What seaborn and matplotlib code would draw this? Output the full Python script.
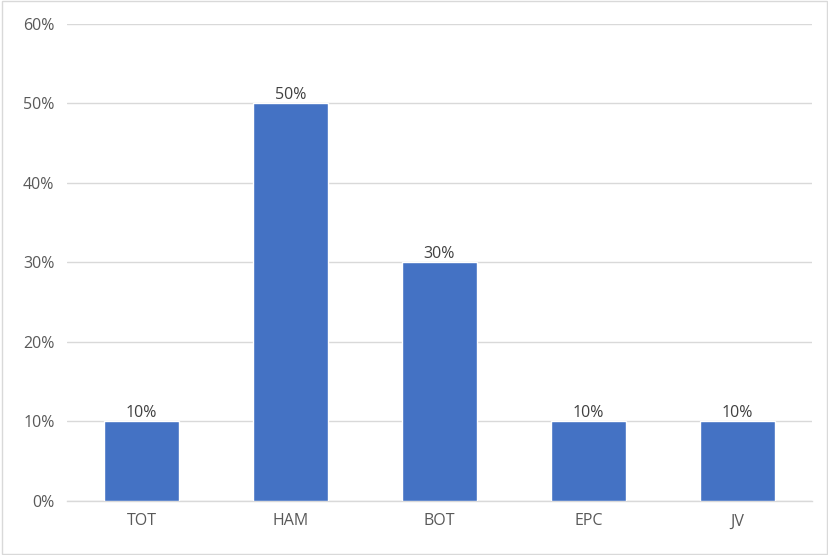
import matplotlib
matplotlib.use("Agg")
import matplotlib.pyplot as plt
from matplotlib.patches import Rectangle
from matplotlib.ticker import PercentFormatter
import seaborn as sns
import pandas as pd

categories = ["TOT", "HAM", "BOT", "EPC", "JV"]
shares = [0.10, 0.50, 0.30, 0.10, 0.10]
y_ticks = [0.0, 0.1, 0.2, 0.3, 0.4, 0.5, 0.6]

df = pd.DataFrame({"category": categories, "share": shares})

sns.set_theme(style="white")
plt.rcParams["font.family"] = ["Open Sans", "DejaVu Sans"]

fig = plt.figure(figsize=(8.29, 5.55), dpi=100)
ax = fig.add_axes([0.0808, 0.0973, 0.8987, 0.8595])

sns.barplot(data=df, x="category", y="share", color="#4472C4",
            saturation=1, width=0.5, ax=ax, zorder=3)

ax.set_ylim(0, 0.6)
ax.set_xlim(-0.5, len(categories) - 0.5)
ax.set_yticks(y_ticks)
ax.yaxis.set_major_formatter(PercentFormatter(1.0, decimals=0))
ax.grid(axis="y", color="#D9D9D9", linewidth=1, zorder=0)
ax.set_axisbelow(True)
ax.set_xlabel("")
ax.set_ylabel("")

for side in ["top", "right", "left"]:
    ax.spines[side].set_visible(False)
ax.spines["bottom"].set_color("#D9D9D9")
ax.spines["bottom"].set_linewidth(1)

ax.tick_params(axis="both", length=0, labelsize=11.5, labelcolor="#595959")
ax.tick_params(axis="y", pad=9)
ax.tick_params(axis="x", pad=9)

for cont in ax.containers:
    ax.bar_label(cont, labels=[f"{v:.0%}" for v in shares],
                 fontsize=11.5, color="#404040", padding=0)

fig.patches.append(Rectangle((0.002, 0.002), 0.996, 0.996, transform=fig.transFigure,
                             fill=False, edgecolor="#D9D9D9", linewidth=1))

fig.savefig("out.png", dpi=100)
